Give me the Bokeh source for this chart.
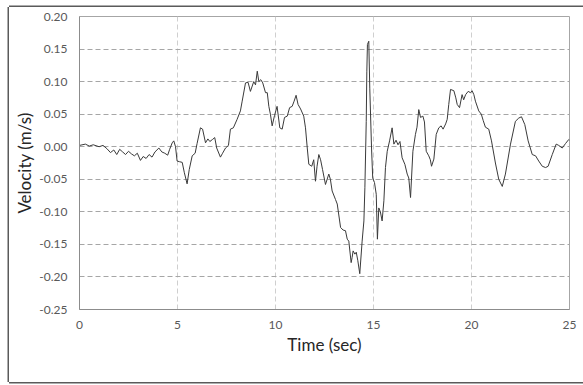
from bokeh.plotting import figure
from bokeh.models import Range1d, FixedTicker, NumeralTickFormatter, ColumnDataSource
from bokeh.embed import file_html
from bokeh.resources import INLINE

# ---- data ----
time_sec = [
    0.00, 0.30, 0.50, 0.70, 1.00, 1.20, 1.40, 1.58, 1.75, 1.90, 2.05, 2.20, 2.35, 2.50,
    2.65, 2.80, 2.95, 3.11, 3.25, 3.40, 3.55, 3.70, 3.85, 4.05, 4.20, 4.35, 4.50, 4.60,
    4.73, 4.81, 4.90, 4.98, 5.10, 5.24, 5.35, 5.49, 5.60, 5.75, 5.90, 6.00, 6.17, 6.28,
    6.43, 6.55, 6.65, 6.78, 6.90, 7.00, 7.19, 7.30, 7.45, 7.60, 7.70, 7.85, 8.04, 8.21,
    8.30, 8.47, 8.60, 8.72, 8.89, 8.98, 9.07, 9.15, 9.25, 9.35, 9.49, 9.58, 9.66, 9.74,
    9.83, 9.95, 10.08, 10.22, 10.34, 10.46, 10.60, 10.72, 10.85, 10.95, 11.05, 11.15,
    11.28, 11.44, 11.53, 11.62, 11.70, 11.85, 11.95, 12.04, 12.12, 12.21, 12.30, 12.40,
    12.55, 12.72, 12.80, 12.89, 13.06, 13.15, 13.32, 13.45, 13.57, 13.66, 13.74, 13.86,
    13.91, 13.96, 14.05, 14.12, 14.20, 14.30, 14.42, 14.51, 14.56, 14.63, 14.66, 14.69,
    14.76, 14.81, 14.90, 14.96, 15.05, 15.14, 15.20, 15.27, 15.35, 15.44, 15.53, 15.61,
    15.70, 15.82, 15.95, 16.04, 16.15, 16.25, 16.35, 16.46, 16.60, 16.72, 16.80, 16.89,
    17.01, 17.14, 17.22, 17.31, 17.40, 17.52, 17.60, 17.69, 17.82, 17.90, 17.96, 18.08,
    18.20, 18.33, 18.45, 18.55, 18.68, 18.76, 18.84, 18.93, 19.10, 19.20, 19.27, 19.39,
    19.52, 19.60, 19.70, 19.83, 19.95, 20.03, 20.12, 20.20, 20.37, 20.50, 20.60, 20.71,
    20.88, 21.02, 21.22, 21.39, 21.57, 21.73, 21.99, 22.24, 22.41, 22.55, 22.72, 22.89,
    23.10, 23.27, 23.43, 23.61, 23.78, 23.91, 24.12, 24.32, 24.45, 24.63, 24.80, 24.96,
    25.00,
]
velocity = [
    0.002, 0.004, 0.001, 0.003, 0.000, 0.002, -0.003, -0.009, -0.005, -0.012, -0.004, -0.008, -0.012, -0.007,
    -0.011, -0.014, -0.010, -0.021, -0.015, -0.018, -0.012, -0.016, -0.008, -0.002, -0.008, -0.010, -0.013, -0.004,
    0.006, 0.009, 0.000, -0.022, -0.023, -0.024, -0.040, -0.057, -0.035, -0.014, -0.010, 0.005, 0.029, 0.027,
    0.006, 0.012, 0.008, 0.011, 0.014, -0.002, -0.016, -0.010, -0.002, 0.002, 0.027, 0.029, 0.042, 0.055,
    0.070, 0.098, 0.099, 0.085, 0.100, 0.095, 0.116, 0.100, 0.103, 0.098, 0.083, 0.083, 0.062, 0.050,
    0.032, 0.048, 0.062, 0.029, 0.027, 0.045, 0.047, 0.060, 0.062, 0.070, 0.079, 0.065,
    0.058, 0.047, 0.029, -0.002, -0.027, -0.030, -0.020, -0.053, -0.030, -0.012, -0.020, -0.035,
    -0.058, -0.042, -0.050, -0.068, -0.081, -0.088, -0.124, -0.128, -0.129, -0.142, -0.145, -0.178,
    -0.170, -0.160, -0.165, -0.162, -0.175, -0.195, -0.145, -0.114, -0.063, 0.039, 0.116, 0.157,
    0.162, 0.090, -0.002, -0.048, -0.055, -0.073, -0.142, -0.094, -0.100, -0.114, -0.083, -0.032,
    -0.007, 0.009, 0.029, 0.004, 0.010, 0.003, 0.008, -0.017, -0.027, -0.042, -0.048, -0.078,
    -0.007, 0.019, 0.030, 0.057, 0.045, 0.047, 0.038, -0.007, -0.014, -0.020, -0.030, -0.019,
    0.019, 0.029, 0.032, 0.027, 0.035, 0.042, 0.065, 0.088, 0.086, 0.075, 0.065, 0.060,
    0.080, 0.072, 0.080, 0.085, 0.083, 0.086, 0.080, 0.070, 0.055, 0.050, 0.040, 0.030,
    0.027, 0.009, -0.025, -0.050, -0.061, -0.042, 0.004, 0.039, 0.044, 0.046, 0.034, 0.009,
    -0.012, -0.014, -0.022, -0.030, -0.032, -0.030, -0.012, 0.004, 0.002, -0.002, 0.005, 0.011,
    0.010,
]
x_ticks = [0, 5, 10, 15, 20, 25]
y_ticks = [-0.25, -0.20, -0.15, -0.10, -0.05, 0.00, 0.05, 0.10, 0.15, 0.20]
x_title = "Time (sec)"
y_title = "Velocity (m/s)"

src = ColumnDataSource(dict(t=time_sec, v=velocity))

FONT = "Lato"

p = figure(
    width=574, height=375,
    output_backend="svg", toolbar_location=None,
    x_range=Range1d(x_ticks[0], x_ticks[-1]),
    y_range=Range1d(y_ticks[0], y_ticks[-1]),
    min_border_left=70, min_border_right=14, min_border_top=9, min_border_bottom=73,
    background_fill_color="white", border_fill_color="white",
)
# outer chart frame on left/top/bottom (shadows take no layout space)
p.styles = {
    "margin-left": "9px",
    "margin-top": "6.5px",
    "box-shadow": "-1.5px 0 0 0 #5a5a5a, 0 -1.5px 0 0 #5a5a5a, 0 1.5px 0 0 #5a5a5a",
}

p.outline_line_color = "#a6a6a6"
p.outline_line_width = 1

p.line("t", "v", source=src, line_color="#3a3a3a", line_width=1)

# axes
p.xaxis.ticker = FixedTicker(ticks=x_ticks)
p.yaxis.ticker = FixedTicker(ticks=y_ticks)
p.yaxis.formatter = NumeralTickFormatter(format="0.00")
p.xaxis.formatter = NumeralTickFormatter(format="0")
for ax in (p.xaxis, p.yaxis):
    ax.major_tick_out = 0
    ax.major_tick_in = 0
    ax.minor_tick_out = 0
    ax.minor_tick_in = 0
    ax.axis_line_color = "#8c8c8c"
    ax.axis_line_width = 1
    ax.major_label_text_font = FONT
    ax.major_label_text_font_size = "12px"
    ax.major_label_text_color = "#595959"
    ax.axis_label_text_font = FONT
    ax.axis_label_text_font_size = "17px"
    ax.axis_label_text_font_style = "normal"
    ax.axis_label_text_color = "#262626"
p.xaxis.axis_label = x_title
p.yaxis.axis_label = y_title
p.xaxis.major_label_standoff = 11
p.yaxis.major_label_standoff = 12
p.xaxis.axis_label_standoff = 2
p.yaxis.axis_label_standoff = 1

# grid
p.ygrid.grid_line_color = "#a6a6a6"
p.ygrid.grid_line_dash = "5 3"
p.ygrid.grid_line_width = 1
p.xgrid.grid_line_color = "#cfcfcf"
p.xgrid.grid_line_dash = "5 3"
p.xgrid.grid_line_width = 1

open("out.html", "w").write(file_html(p, INLINE))
